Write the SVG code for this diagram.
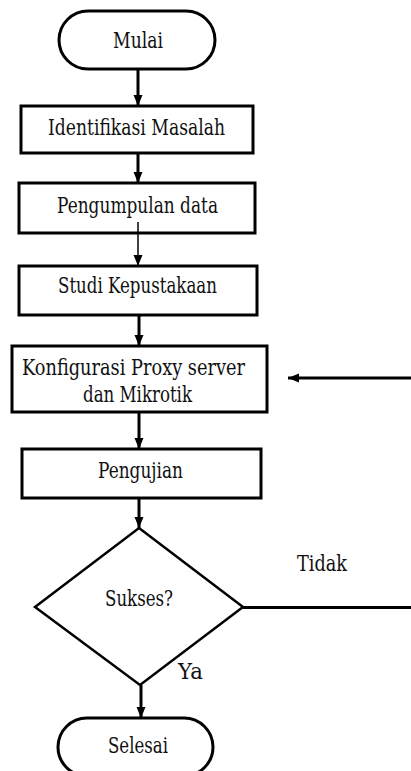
<svg xmlns="http://www.w3.org/2000/svg" width="411" height="771" viewBox="0 0 411 771">
<style>
.box{fill:#fff;stroke:#000;stroke-width:3}
.dia{fill:#fff;stroke:#000;stroke-width:2.5}
text{font-family:'DejaVu Serif','Liberation Serif',serif;font-size:22px;fill:#111}
.t{text-anchor:middle}
.c{fill:none;stroke:#000;stroke-width:3}
.cthin{fill:none;stroke:#000;stroke-width:1.5}
</style>
<defs>
<marker id="ah" markerUnits="userSpaceOnUse" markerWidth="12" markerHeight="12" viewBox="0 0 12 12" refX="11" refY="6" orient="auto">
<path d="M0,1.5 L11,6 L0,10.5 Z" fill="#000"/>
</marker>
</defs>
<rect width="411" height="771" fill="#fff"/>
<g id="connectors">
<line class="c" x1="138" y1="69" x2="138" y2="106" marker-end="url(#ah)"/>
<line class="c" x1="138" y1="153" x2="138" y2="183" marker-end="url(#ah)"/>
<line class="cthin" x1="138" y1="222" x2="138" y2="266" marker-end="url(#ah)"/>
<line class="c" x1="139" y1="315" x2="139" y2="346" marker-end="url(#ah)"/>
<line class="c" x1="139" y1="412" x2="139" y2="449" marker-end="url(#ah)"/>
<line class="c" x1="139" y1="498" x2="139" y2="528" marker-end="url(#ah)"/>
<line class="c" x1="141" y1="685" x2="141" y2="718" marker-end="url(#ah)"/>
<line class="c" x1="411" y1="378" x2="288" y2="378" marker-end="url(#ah)"/>
<line class="c" x1="243" y1="607.5" x2="411" y2="607.5"/>
<text x="297" y="571" textLength="50" lengthAdjust="spacingAndGlyphs">Tidak</text>
<text x="178" y="679" textLength="25" lengthAdjust="spacingAndGlyphs">Ya</text>
</g>
<g id="mulai">
<rect class="box" x="59" y="11" width="156" height="58" rx="29"/>
<text class="t" x="138" y="48" textLength="50" lengthAdjust="spacingAndGlyphs">Mulai</text>
</g>
<g id="identifikasi">
<rect class="box" x="21" y="106" width="232" height="47"/>
<text class="t" x="136.5" y="135" textLength="177" lengthAdjust="spacingAndGlyphs">Identifikasi  Masalah</text>
</g>
<g id="pengumpulan">
<rect class="box" x="19" y="183" width="236" height="50"/>
<text class="t" x="137.5" y="213" textLength="161" lengthAdjust="spacingAndGlyphs">Pengumpulan  data</text>
</g>
<line class="cthin" x1="138" y1="222" x2="138" y2="234"/>
<g id="studi">
<rect class="box" x="19" y="266" width="238" height="49"/>
<text class="t" x="137.5" y="293" textLength="159" lengthAdjust="spacingAndGlyphs">Studi Kepustakaan</text>
</g>
<g id="konfigurasi">
<rect class="box" x="12" y="346" width="255" height="66"/>
<text class="t" x="133.5" y="375" textLength="223" lengthAdjust="spacingAndGlyphs">Konfigurasi Proxy server</text>
<text class="t" x="137.5" y="402" textLength="109" lengthAdjust="spacingAndGlyphs">dan Mikrotik</text>
</g>
<g id="pengujian">
<rect class="box" x="22" y="449" width="239" height="49"/>
<text class="t" x="140.5" y="478" textLength="85" lengthAdjust="spacingAndGlyphs">Pengujian</text>
</g>
<g id="sukses">
<polygon class="dia" points="139,528 243,607 140,685 35,607"/>
<text class="t" x="139" y="606" textLength="68" lengthAdjust="spacingAndGlyphs">Sukses?</text>
</g>
<g id="selesai">
<rect class="box" x="58" y="718" width="155" height="58" rx="29"/>
<text class="t" x="138" y="753" textLength="60" lengthAdjust="spacingAndGlyphs">Selesai</text>
</g>
</svg>
